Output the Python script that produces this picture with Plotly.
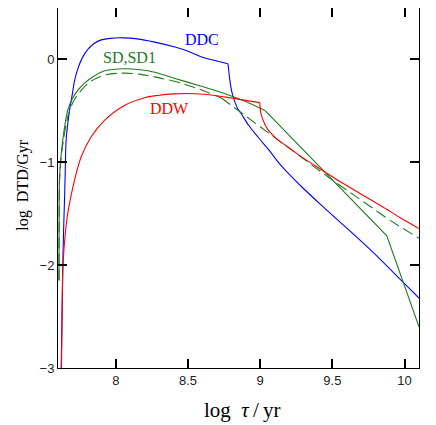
import plotly.graph_objects as go

# log tau/yr and log DTD/Gyr
ddc_x = [7.622, 7.628, 7.633, 7.640, 7.645, 7.650, 7.656, 7.668, 7.680, 7.700, 7.714,
         7.740, 7.770, 7.808, 7.850, 7.900, 7.960, 8.050, 8.150, 8.270, 8.410, 8.500,
         8.600, 8.700, 8.777, 8.782, 8.788, 8.796, 8.808, 8.824, 8.845, 8.870, 8.920,
         8.985, 9.060, 9.147, 9.296, 9.450, 9.600, 9.800, 10.000, 10.100]
ddc_y = [-3.00, -2.50, -2.00, -1.60, -1.37, -1.10, -0.786, -0.62, -0.495, -0.33, -0.21,
         -0.08, 0.02, 0.10, 0.155, 0.19, 0.205, 0.21, 0.20, 0.168, 0.12, 0.08,
         0.022, -0.015, -0.042, -0.10, -0.18, -0.26, -0.34, -0.41, -0.48, -0.53, -0.64,
         -0.754, -0.88, -1.035, -1.25, -1.45, -1.64, -1.90, -2.18, -2.32]

sd_x = [7.607, 7.607, 7.608, 7.610, 7.620, 7.633, 7.650, 7.667, 7.700, 7.737, 7.780,
        7.830, 7.924, 8.060, 8.170, 8.270, 8.410, 8.580, 8.685, 8.790, 8.900, 9.036,
        9.877, 10.100]
sd_y = [-2.15, -1.90, -1.60, -1.175, -0.95, -0.786, -0.62, -0.495, -0.38, -0.30, -0.235,
        -0.18, -0.11, -0.09, -0.10, -0.125, -0.185, -0.255, -0.30, -0.35, -0.41, -0.50,
        -1.715, -2.60]

sd1_x = [7.607, 7.607, 7.608, 7.611, 7.622, 7.636, 7.655, 7.675, 7.710, 7.750, 7.810,
         7.870, 7.924, 8.060, 8.170, 8.270, 8.410, 8.580, 8.731, 9.100, 9.469, 9.900,
         10.100]
sd1_y = [-2.15, -1.90, -1.60, -1.175, -0.95, -0.80, -0.64, -0.52, -0.40, -0.32, -0.23,
         -0.18, -0.15, -0.133, -0.145, -0.17, -0.215, -0.29, -0.375, -0.76, -1.142, -1.565,
         -1.74]

ddw_x = [7.624, 7.628, 7.635, 7.650, 7.665, 7.684, 7.714, 7.760, 7.829, 7.922, 8.060,
         8.200, 8.290, 8.400, 8.550, 8.685, 8.800, 8.900, 8.997, 9.000, 9.003, 9.015,
         9.031, 9.050, 9.077, 9.130, 9.192, 9.280, 9.377, 9.538, 9.700, 9.850, 9.965,
         10.100]
ddw_y = [-3.00, -2.50, -2.00, -1.70, -1.52, -1.37, -1.175, -0.948, -0.754, -0.592, -0.447,
         -0.372, -0.35, -0.335, -0.333, -0.35, -0.375, -0.398, -0.42, -0.47, -0.51, -0.57,
         -0.625, -0.675, -0.722, -0.79, -0.851, -0.94, -1.03, -1.175, -1.31, -1.435, -1.535,
         -1.645]

x_ticks = [8, 8.5, 9, 9.5, 10]
x_ticklabels = ['8', '8.5', '9', '9.5', '10']
y_ticks = [-3, -2, -1, 0]

BLUE = '#0000ff'
GREEN = '#1f7a1f'
RED = '#ff0000'

fig = go.Figure()


def add_curve(xs, ys, color, pieces, dash='solid'):
    # pieces: (start, end, shape) so kinks stay sharp while the rest is smooth
    for start, end, shape in pieces:
        fig.add_trace(go.Scatter(
            x=xs[start:end + 1], y=ys[start:end + 1], mode='lines',
            line=dict(color=color, width=1.1, dash=dash, shape=shape, smoothing=0.9)))


add_curve(ddc_x, ddc_y, BLUE, [(0, 24, 'spline'), (24, len(ddc_x) - 1, 'spline')])
add_curve(sd_x, sd_y, GREEN, [(0, 21, 'spline'), (21, len(sd_x) - 1, 'linear')])
add_curve(sd1_x, sd1_y, GREEN, [(0, 18, 'spline'), (18, len(sd1_x) - 1, 'linear')],
          dash='11px,5px')
add_curve(ddw_x, ddw_y, RED, [(0, 18, 'spline'), (18, len(ddw_x) - 1, 'spline')])

label_font = dict(family='Liberation Serif, Times New Roman, serif', size=16)
fig.add_annotation(x=8.595, y=0.19, text='DDC', showarrow=False,
                   font=dict(label_font, color=BLUE))
fig.add_annotation(x=8.097, y=0.02, text='SD,SD1', showarrow=False,
                   font=dict(label_font, color=GREEN))
fig.add_annotation(x=8.374, y=-0.48, text='DDW', showarrow=False,
                   font=dict(label_font, color=RED))

# axis titles as annotations so they sit where the reference has them
fig.add_annotation(xref='paper', yref='paper', x=0.51, y=-0.118, yanchor='middle',
                   text='log  <i>τ</i>\u2009/\u2009yr', showarrow=False,
                   font=dict(family='Liberation Serif, serif', size=21, color='black'))
fig.add_annotation(xref='paper', yref='paper', x=-0.127, y=0.507, textangle=-90,
                   text='log  DTD/Gyr', showarrow=False,
                   font=dict(family='Liberation Serif, serif', size=16, color='black'))

tick_font = dict(family='Liberation Sans, Arial, sans-serif', size=13, color='#222')

fig.update_xaxes(
    range=[7.6, 10.1], tickmode='array', tickvals=x_ticks, ticktext=x_ticklabels,
    ticks='inside', ticklen=9, tickwidth=2, tickcolor='black', mirror='ticks',
    showline=True, linecolor='black', linewidth=1, showgrid=False, zeroline=False,
    tickfont=tick_font,
)
fig.update_yaxes(
    range=[-3, 0.5], tickmode='linear', tick0=0, dtick=1,
    ticks='inside', ticklen=9, tickwidth=2, tickcolor='black', mirror='ticks',
    showline=True, linecolor='black', linewidth=1, showgrid=False, zeroline=False,
    tickfont=tick_font,
)

# page body keeps an 8px margin, so the figure is 8px smaller each way
fig.update_layout(
    width=428, height=417,
    margin=dict(l=50, r=17, t=0, b=57),
    showlegend=False,
    plot_bgcolor='white', paper_bgcolor='white',
)

fig.write_html("out.html")
